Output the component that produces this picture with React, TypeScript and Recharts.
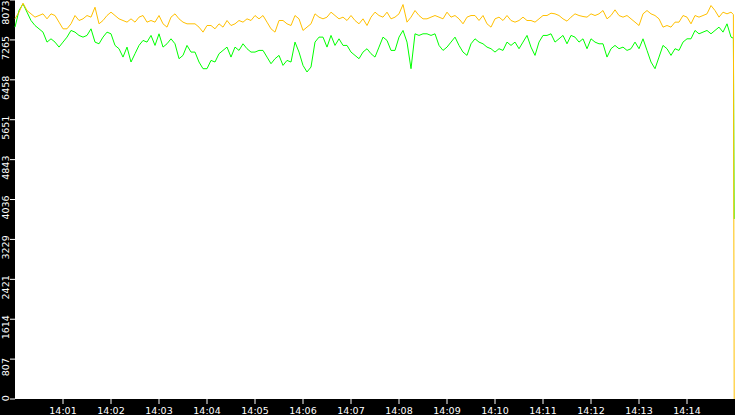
import { CartesianGrid, Line, LineChart, XAxis, YAxis } from "recharts"

// seconds after 14:00:00: one sample every 5 s, then the last two seconds of the run
const SAMPLE_STEP = 5
const TAIL_SECONDS = [898, 899]

const amberSeries = [
  7692, 7827, 8008, 7860, 7793, 7726, 7759, 7793, 7692, 7793,
  7759, 7625, 7490, 7490, 7591, 7759, 7658, 7692, 7759, 7726,
  7927, 7591, 7658, 7759, 7827, 7759, 7692, 7658, 7625, 7692,
  7625, 7726, 7759, 7625, 7658, 7625, 7759, 7591, 7524, 7726,
  7793, 7692, 7625, 7591, 7591,
  7591, 7524, 7423, 7557, 7557, 7490, 7591, 7524, 7658, 7557,
  7591, 7658, 7625, 7692, 7658, 7759, 7692, 7759, 7625, 7490,
  7423, 7658, 7658, 7591, 7557, 7759, 7692, 7457, 7524, 7591,
  7793, 7726, 7692, 7726, 7827, 7759, 7692, 7726, 7658, 7759,
  7658, 7591, 7692, 7557, 7726,
  7827, 7759, 7726, 7827, 7692, 7726, 7793, 7981, 7625, 7726,
  7860, 7759, 7692, 7692, 7726, 7759, 7726, 7692, 7827, 7726,
  7759, 7692, 7591, 7726, 7759, 7759, 7658, 7759, 7591, 7524,
  7692, 7726, 7658, 7759, 7658, 7625, 7658, 7726, 7658, 7658,
  7625, 7692, 7759, 7759, 7806,
  7793, 7759, 7692, 7645, 7726, 7793, 7759, 7739, 7726, 7793,
  7759, 7793, 7860, 7692, 7759, 7874, 7759, 7726, 7759, 7692,
  7625, 7557, 7793, 7860, 7793, 7759, 7692, 7524, 7557, 7524,
  7625, 7625, 7759, 7726, 7591, 7759, 7726, 7759, 7793, 7961,
  7860, 7726, 7827, 7793, 7827,
  7780, 0,
]

const greenSeries = [
  7524, 7860, 7995, 7827, 7658, 7557, 7490, 7423, 7221, 7288,
  7221, 7120, 7221, 7322, 7457, 7423, 7356, 7322, 7356, 7490,
  7221, 7187, 7322, 7423, 7389, 7154, 7087, 6918, 7120, 6818,
  6986, 7154, 7255, 7221, 7356, 7154, 7389, 7120, 7187, 7288,
  7187, 6885, 6952, 7154, 7019,
  7019, 6818, 6683, 6683, 6851, 6818, 6986, 7053, 7120, 6918,
  7120, 7053, 7187, 7087, 7019, 7019, 7053, 7053, 6918, 6784,
  6885, 6952, 6750, 6851, 6818, 7221, 7019, 6750, 6616, 6717,
  7221, 7322, 7322, 7120, 7356, 7154, 7288, 7154, 7154, 7019,
  6952, 6885, 7019, 7087, 6986,
  6918, 7120, 7322, 7255, 7053, 7053, 7322, 7457, 7221, 6683,
  7389, 7356, 7389, 7389, 7356, 7389, 7154, 7053, 7120, 7221,
  7322, 7154, 7019, 6952, 7187, 7288, 7221, 7187, 7120, 7087,
  7019, 7087, 7053, 7221, 7154, 7221, 7087, 7221, 7356, 7120,
  6952, 7221, 7356, 7356, 7389,
  7221, 7288, 7356, 7187, 7356, 7322, 7221, 7288, 7087, 7288,
  7221, 7187, 7187, 6918, 7087, 7154, 7087, 7120, 7053, 7087,
  7221, 7087, 7288, 7053, 6818, 6683, 6918, 7154, 7087, 6952,
  7087, 7053, 7221, 7288, 7288, 7457, 7389, 7423, 7457, 7389,
  7457, 7524, 7423, 7591, 7322,
  7300, 3643,
]

const yTicks = [0, 807, 1614, 2421, 3229, 4036, 4843, 5651, 6458, 7265, 8073]
const xTicks = [60, 120, 180, 240, 300, 360, 420, 480, 540, 600, 660, 720, 780, 840]
const xLabels = [
  "14:01", "14:02", "14:03", "14:04", "14:05", "14:06", "14:07",
  "14:08", "14:09", "14:10", "14:11", "14:12", "14:13", "14:14",
]

const gridCount = amberSeries.length - TAIL_SECONDS.length
const data = amberSeries.map((amber, i) => ({
  t: i < gridCount ? i * SAMPLE_STEP : TAIL_SECONDS[i - gridCount],
  amber,
  green: greenSeries[i],
}))

const FONT = "'DejaVu Sans', Verdana, sans-serif"

function YTick(props: any) {
  const { y, payload } = props
  const label = String(payload.value)
  const len = label.length * 5.8
  // label sits a little below its tick, kept inside the plot height
  const cy = Math.max(len / 2 + 1, Math.min(401 - len / 2, y + 8))
  return (
    <text
      x={9}
      y={cy}
      transform={`rotate(-90 9 ${cy})`}
      textAnchor="middle"
      fill="#fff"
      fontSize={9.5}
      fontFamily={FONT}
    >
      {label}
    </text>
  )
}

export default function App() {
  return (
    <div style={{ position: "absolute", left: 0, top: 0, width: 735, height: 415, background: "#000" }}>
      <LineChart width={735} height={415} data={data} margin={{ top: 0, right: 0, bottom: 0, left: 0 }}>
        <CartesianGrid horizontal={false} vertical={false} fill="#fff" stroke="none" />
        <XAxis
          dataKey="t"
          type="number"
          domain={[0, 900]}
          ticks={xTicks}
          interval={0}
          tickFormatter={(v: number) => xLabels[xTicks.indexOf(v)]}
          height={16}
          axisLine={false}
          tickLine={{ stroke: "#fff" }}
          tickSize={5}
          tickMargin={3}
          tick={{ fill: "#fff", fontSize: 9.5, fontFamily: FONT }}
        />
        <YAxis
          type="number"
          domain={[0, 8073]}
          ticks={yTicks}
          interval={0}
          width={15}
          axisLine={false}
          tickLine={{ stroke: "#fff" }}
          tickSize={5}
          tick={<YTick />}
        />
        <Line
          dataKey="green"
          type="linear"
          stroke="#00ff00"
          strokeWidth={1}
          dot={false}
          isAnimationActive={false}
        />
        <Line
          dataKey="amber"
          type="linear"
          stroke="#ffc000"
          strokeWidth={1}
          dot={false}
          isAnimationActive={false}
        />
      </LineChart>
    </div>
  )
}
